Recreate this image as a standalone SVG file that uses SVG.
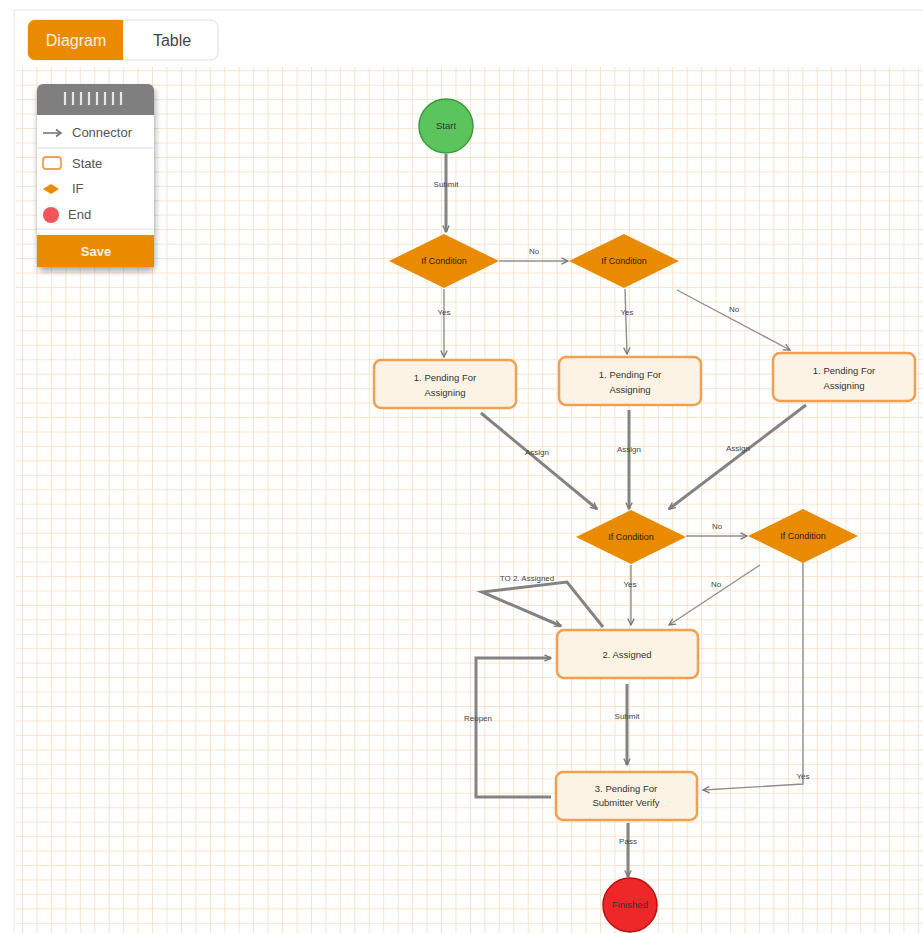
<svg xmlns="http://www.w3.org/2000/svg" width="923" height="933" viewBox="0 0 923 933">
<style>
  text { font-family: "Liberation Sans", Arial, sans-serif; }
  .lbl { font-size: 8px; fill: #444; text-anchor: middle; }
  .ntxt { font-size: 9.5px; fill: #333; text-anchor: middle; }
  .dtxt { font-size: 9px; fill: #2e1d00; text-anchor: middle; }
  .state { fill: #fdf3e4; stroke: #f0a04e; stroke-width: 2.5; }
  .dia { fill: #e98b00; }
  .thin { fill: none; stroke: #8f8f8f; stroke-width: 1.4; }
  .thick { fill: none; stroke: #838383; stroke-width: 3; }
  .tool { font-size: 13px; fill: #555; }
</style>
<defs>
  <pattern id="grid" x="7.55" y="12.45" width="14.45" height="14.45" patternUnits="userSpaceOnUse">
    <path d="M0,0 H14.45 M0,0 V14.45" fill="none" stroke="#f8dcbd" stroke-width="1.6"/>
  </pattern>
  <marker id="ah" viewBox="0 0 8 8" refX="7" refY="4" markerWidth="8" markerHeight="8" markerUnits="userSpaceOnUse" orient="auto">
    <path d="M0.5,0.8 L7,4 L0.5,7.2" fill="none" stroke="#777" stroke-width="1.3"/>
  </marker>
  <filter id="sh" x="-20%" y="-20%" width="140%" height="150%">
    <feDropShadow dx="1" dy="4" stdDeviation="3" flood-color="#000" flood-opacity="0.35"/>
  </filter>
</defs>
<rect width="923" height="933" fill="#ffffff"/>
<rect x="14" y="10" width="915" height="930" fill="#ffffff" stroke="#eeeeee" stroke-width="1.5"/>
<rect x="16" y="67" width="907" height="866" fill="url(#grid)"/>

<g id="tabs">
  <rect x="28" y="20" width="190" height="40" rx="7" fill="#ffffff" stroke="#e2e2e2" stroke-width="1.2"/>
  <path d="M35,20 H123 V60 H35 A7,7 0 0 1 28,53 V27 A7,7 0 0 1 35,20 Z" fill="#e98b00"/>
  <text x="76" y="46" font-size="16" fill="#fdf0e0" text-anchor="middle">Diagram</text>
  <text x="172" y="46" font-size="16" fill="#444" text-anchor="middle">Table</text>
</g>

<g id="toolbox">
  <rect x="37" y="84" width="117" height="183" rx="6" fill="#ffffff" filter="url(#sh)"/>
  <path d="M43,84 H148 A6,6 0 0 1 154,90 V115 H37 V90 A6,6 0 0 1 43,84 Z" fill="#7f7f7f"/>
  <g stroke="#e6e6e6" stroke-width="2.2">
    <path d="M65,92 V105 M73,92 V105 M81,92 V105 M89,92 V105 M97,92 V105 M105,92 V105 M113,92 V105 M121,92 V105"/>
  </g>
  <path d="M43,133 H60" stroke="#777" stroke-width="1.6"/>
  <path d="M56,129.5 L61,133 L56,136.5" fill="none" stroke="#777" stroke-width="1.6"/>
  <text x="72" y="137" class="tool">Connector</text>
  <line x1="37" y1="148" x2="154" y2="148" stroke="#eeeeee" stroke-width="2"/>
  <rect x="43" y="157" width="18" height="12" rx="3" fill="#fff" stroke="#f0a04e" stroke-width="1.8"/>
  <text x="72" y="168" class="tool">State</text>
  <path d="M43,189 L51,184 L59,189 L51,194 Z" fill="#e98b00"/>
  <text x="72" y="193" class="tool">IF</text>
  <circle cx="51" cy="215" r="8" fill="#f0555a"/>
  <text x="68" y="219" class="tool">End</text>
  <line x1="37" y1="229" x2="154" y2="229" stroke="#eeeeee" stroke-width="2"/>
  <rect x="37" y="235" width="117" height="32" fill="#e98b00"/>
  <text x="96" y="256" font-size="13" font-weight="bold" fill="#fdf0e0" text-anchor="middle">Save</text>
</g>

<g id="connectors">
  <path class="thick" d="M446,154 V232" marker-end="url(#ah)"/>
  <text x="446" y="187" class="lbl">Submit</text>
  <path class="thin" d="M499,261 H568" marker-end="url(#ah)"/>
  <text x="534" y="254" class="lbl">No</text>
  <path class="thin" d="M444,289 V357" marker-end="url(#ah)"/>
  <text x="444" y="315" class="lbl">Yes</text>
  <path class="thin" d="M625,289 L627,354" marker-end="url(#ah)"/>
  <text x="627" y="315" class="lbl">Yes</text>
  <path class="thin" d="M677,290 L790,350" marker-end="url(#ah)"/>
  <text x="734" y="312" class="lbl">No</text>
  <path class="thick" d="M481,413 L597,509" marker-end="url(#ah)"/>
  <text x="537" y="455" class="lbl">Assign</text>
  <path class="thick" d="M629,410 V509" marker-end="url(#ah)"/>
  <text x="629" y="452" class="lbl">Assign</text>
  <path class="thick" d="M806,405 L669,509" marker-end="url(#ah)"/>
  <text x="738" y="451" class="lbl">Assign</text>
  <path class="thin" d="M686,536 H747" marker-end="url(#ah)"/>
  <text x="717" y="529" class="lbl">No</text>
  <path class="thin" d="M631,565 V625" marker-end="url(#ah)"/>
  <text x="630" y="587" class="lbl">Yes</text>
  <path class="thin" d="M760,565 L669,625" marker-end="url(#ah)"/>
  <text x="716" y="587" class="lbl">No</text>
  <path class="thick" d="M603,627 L567,582 L482,592 L561,626" marker-end="url(#ah)"/>
  <text x="527" y="581" class="lbl">TO 2. Assigned</text>
  <path class="thick" d="M627,684 V765" marker-end="url(#ah)"/>
  <text x="627" y="719" class="lbl">Submit</text>
  <path class="thick" d="M551,797 H476 V658 H551" marker-end="url(#ah)"/>
  <text x="478" y="721" class="lbl">Reopen</text>
  <path class="thin" d="M803,563 V784 L703,790" marker-end="url(#ah)"/>
  <text x="803" y="779" class="lbl">Yes</text>
  <path class="thick" d="M628,823 V877" marker-end="url(#ah)"/>
  <text x="628" y="844" class="lbl">Pass</text>
</g>

<g id="start">
  <circle cx="446" cy="126" r="27" fill="#5cc45c" stroke="#3c9a3c" stroke-width="1.5"/>
  <text x="446" y="129" class="ntxt" font-size="9">Start</text>
</g>
<g id="if1">
  <path class="dia" d="M444,234 L499,261 L444,288 L389,261 Z"/>
  <text x="444" y="264" class="dtxt">If Condition</text>
</g>
<g id="if2">
  <path class="dia" d="M624,234 L679,261 L624,288 L569,261 Z"/>
  <text x="624" y="264" class="dtxt">If Condition</text>
</g>
<g id="pending1">
  <rect class="state" x="374" y="360" width="142" height="48" rx="7"/>
  <text x="445" y="381" class="ntxt">1. Pending For</text>
  <text x="445" y="396" class="ntxt">Assigning</text>
</g>
<g id="pending2">
  <rect class="state" x="559" y="357" width="142" height="48" rx="7"/>
  <text x="630" y="378" class="ntxt">1. Pending For</text>
  <text x="630" y="393" class="ntxt">Assigning</text>
</g>
<g id="pending3">
  <rect class="state" x="773" y="353" width="142" height="48" rx="7"/>
  <text x="844" y="374" class="ntxt">1. Pending For</text>
  <text x="844" y="389" class="ntxt">Assigning</text>
</g>
<g id="if3">
  <path class="dia" d="M631,510 L686,537 L631,564 L576,537 Z"/>
  <text x="631" y="540" class="dtxt">If Condition</text>
</g>
<g id="if4">
  <path class="dia" d="M803,509 L858,536 L803,563 L748,536 Z"/>
  <text x="803" y="539" class="dtxt">If Condition</text>
</g>
<g id="assigned">
  <rect class="state" x="557" y="630" width="141" height="48" rx="7"/>
  <text x="627" y="658" class="ntxt">2. Assigned</text>
</g>
<g id="verify">
  <rect class="state" x="556" y="772" width="141" height="48" rx="7"/>
  <text x="626" y="792" class="ntxt">3. Pending For</text>
  <text x="626" y="806" class="ntxt">Submitter Verify</text>
</g>
<g id="finished">
  <circle cx="630" cy="905" r="27" fill="#ee2828" stroke="#b81010" stroke-width="1.5"/>
  <text x="630" y="908" class="ntxt" font-size="9" fill="#400">Finished</text>
</g>
</svg>
